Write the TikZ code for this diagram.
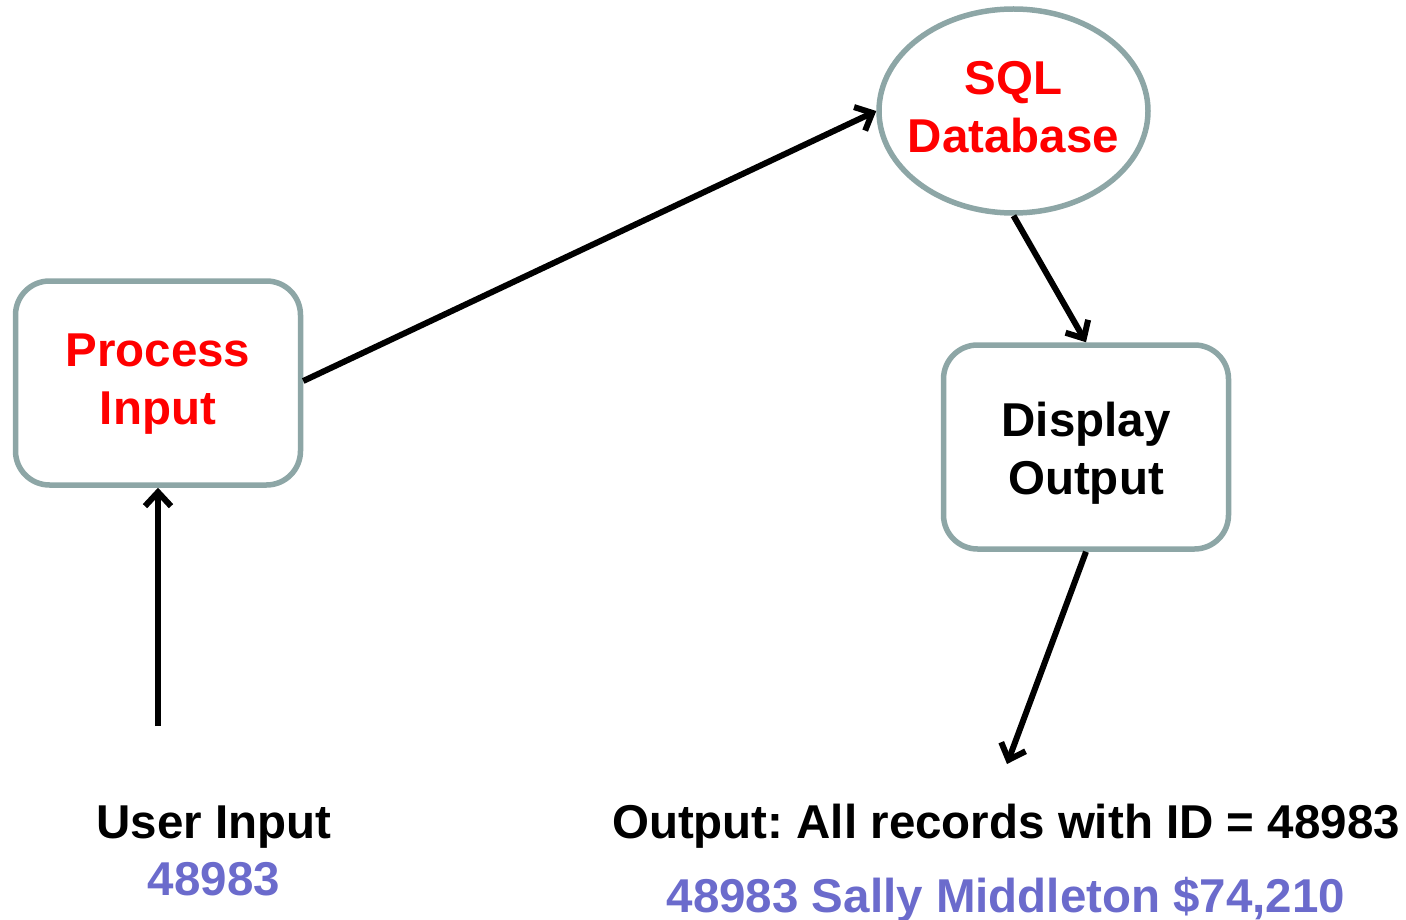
\documentclass[tikz,border=0pt]{standalone}
\usepackage{fontspec}
\setmainfont{Liberation Sans}
\frenchspacing
\usetikzlibrary{arrows.meta,shapes.geometric}
\definecolor{edgegray}{HTML}{8DA6A6}
\definecolor{textred}{HTML}{FF0000}
\definecolor{valblue}{HTML}{6B6BCC}
\tikzset{
  x=1pt, y=-1pt,
  procbox/.style={draw=edgegray, line width=5.5pt, rounded corners=34pt, fill=white,
    minimum width=285pt, minimum height=204pt, inner sep=0pt},
  dbshape/.style={draw=edgegray, line width=5.5pt, ellipse, fill=white,
    minimum width=269pt, minimum height=204pt, inner sep=0pt},
  bigtext/.style={font=\fontsize{47.5}{58}\selectfont\bfseries, inner sep=0pt, align=center},
  flow/.style={line width=6pt, -{Straight Barb[length=14pt,width=26pt,line width=6pt]}},
}
\begin{document}
\begin{tikzpicture}
\useasboundingbox (0,0) rectangle (1406,920);

% process steps
\node[procbox] (proc) at (158,383) {};
\node[dbshape] (db) at (1013.5,111) {};
\node[procbox] (disp) at (1086,447) {};

% texts inside the steps
\node[bigtext, text=textred] (proct) at ([yshift=-1pt]proc.center) {Process\\Input};
\node[bigtext, text=textred] (dbt) at ([yshift=3.5pt]db.center) {SQL\\Database};
\node[bigtext, text=black] (dispt) at ([yshift=-6pt]disp.center) {Display\\Output};

% input and output texts
\node[bigtext, anchor=base] (uin) at (214,838) {User Input};
\node[bigtext, anchor=base, text=valblue] (uval) at (214,895) {48983};
\node[bigtext, anchor=base] (oin) at (1006,838) {Output: All records with ID = 48983};
\node[bigtext, anchor=base, text=valblue] (oval) at (1006,912) {48983 Sally Middleton \$74,210};

\coordinate (instart) at (158,726);
\coordinate (outend) at (1007,764);
\path (proc.east) ++(0,-2) coordinate (pe);

% connectors
\draw[flow] (instart) -- (proc.south);
\draw[flow] (pe) -- (db.west);
\draw[flow] (db.south) -- (disp.north);
\draw[flow] (disp.south) -- (outend);
\end{tikzpicture}
\end{document}
